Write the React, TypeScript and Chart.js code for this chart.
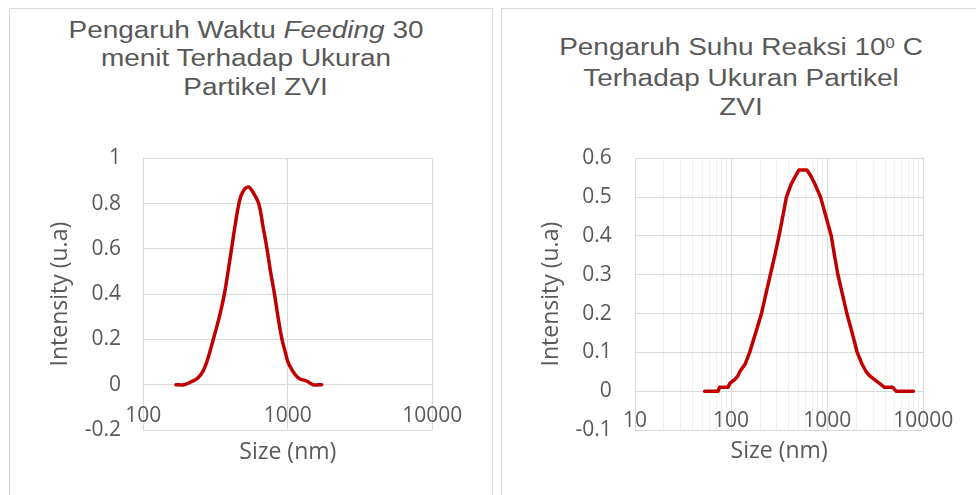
import React, { useEffect, useRef } from 'react';
import { Chart, registerables } from 'chart.js';

Chart.register(...registerables);

// ---- data ----
const leftSizes = [168, 191, 210, 239, 259, 275, 305, 336, 364, 386, 408, 431, 459, 486, 533, 574, 629, 673, 718, 759, 809, 855, 912, 964, 1003, 1069, 1140, 1214, 1315, 1403, 1494, 1716];
const leftIntensity = [0, 0, 0.01, 0.03, 0.06, 0.1, 0.2, 0.3, 0.4, 0.5, 0.6, 0.7, 0.8, 0.85, 0.873, 0.85, 0.8, 0.7, 0.6, 0.5, 0.4, 0.3, 0.2, 0.14, 0.1, 0.066, 0.04, 0.025, 0.019, 0.01, 0, 0];

const rightSizes = [53, 73, 76, 93, 97, 109, 118, 123, 140, 156, 180, 207, 230, 256, 285, 315, 345, 376, 424, 508, 615, 680, 740, 853, 970, 1103, 1190, 1292, 1440, 1603, 1820, 2052, 2300, 2547, 2756, 3106, 3500, 3945, 4810, 5214, 7890];
const rightIntensity = [0, 0, 0.01, 0.01, 0.02, 0.03, 0.04, 0.05, 0.07, 0.1, 0.15, 0.2, 0.25, 0.3, 0.35, 0.4, 0.45, 0.5, 0.535, 0.57, 0.57, 0.553, 0.535, 0.5, 0.45, 0.4, 0.35, 0.3, 0.25, 0.2, 0.15, 0.1, 0.07, 0.05, 0.04, 0.03, 0.02, 0.01, 0.01, 0, 0];

const leftXTicks = [100, 1000, 10000];
const rightXTicks = [10, 100, 1000, 10000];
const leftYTicks = [-0.2, 0, 0.2, 0.4, 0.6, 0.8, 1];
const rightYTicks = [-0.1, 0, 0.1, 0.2, 0.3, 0.4, 0.5, 0.6];

const xTitle = 'Size (nm)';
const yTitle = 'Intensity (u.a)';

const TEXT = '#595959';
const GRID = '#d9d9d9';
const MINOR = '#efefef';
const LINE = '#c00000';

type Spec = {
  sizes: number[];
  values: number[];
  xTicks: number[];
  yTicks: number[];
  minorGrid: boolean;
  smooth: boolean;
  width: number;
  height: number;
  pad: { left: number; right: number; top: number; bottom: number };
  yAxisWidth: number;
  xAxisHeight: number;
  yTickPad: number;
  xTickPad: number;
  yTitlePad: number;
  xTitlePad: number;
};

function ChartBox({ spec, left, top }: { spec: Spec; left: number; top: number }) {
  const ref = useRef<HTMLCanvasElement>(null);
  useEffect(() => {
    const canvas = ref.current!;
    const majors = spec.xTicks;
    const lo = majors[0];
    const hi = majors[majors.length - 1];
    const gridValues: number[] = [];
    majors.forEach((m, i) => {
      gridValues.push(m);
      if (spec.minorGrid && i < majors.length - 1) {
        for (let k = 2; k < 10; k++) gridValues.push(m * k);
      }
    });
    gridValues.sort((a, b) => a - b);
    const chart = new Chart(canvas, {
      type: 'line',
      data: {
        datasets: [
          {
            data: spec.sizes.map((s, i) => ({ x: s, y: spec.values[i] })),
            borderColor: LINE,
            borderWidth: 3.5,
            pointRadius: 0,
            tension: spec.smooth ? 0.4 : 0,
            borderCapStyle: 'round',
            borderJoinStyle: 'round',
            fill: false,
          } as any,
        ],
      },
      options: {
        responsive: false,
        animation: false,
        devicePixelRatio: 1,
        events: [],
        layout: { padding: spec.pad },
        plugins: {
          legend: { display: false },
          tooltip: { enabled: false },
          title: { display: false },
        },
        scales: {
          x: {
            type: 'logarithmic',
            position: 'bottom',
            min: lo,
            max: hi,
            afterBuildTicks: (s: any) => {
              s.ticks = gridValues.map((v) => ({ value: v }));
            },
            afterFit: (s: any) => {
              s.height = spec.xAxisHeight;
            },
            ticks: {
              autoSkip: false,
              maxRotation: 0,
              minRotation: 0,
              mirror: true,
              padding: spec.xTickPad,
              color: TEXT,
              font: { family: 'Open Sans', size: 21 },
              callback: (v: any) => (majors.includes(Number(v)) ? String(v) : ''),
            },
            grid: {
              drawTicks: false,
              lineWidth: 1,
              color: (ctx: any) => (ctx.tick && majors.includes(ctx.tick.value) ? GRID : spec.minorGrid ? MINOR : 'rgba(0,0,0,0)'),
            },
            border: { display: false },
            title: {
              display: true,
              text: xTitle,
              color: TEXT,
              font: { family: 'Open Sans', size: 23 },
              padding: { top: 0, bottom: spec.xTitlePad },
            },
          } as any,
          y: {
            type: 'linear',
            min: spec.yTicks[0],
            max: spec.yTicks[spec.yTicks.length - 1],
            afterBuildTicks: (s: any) => {
              s.ticks = spec.yTicks.map((v) => ({ value: v }));
            },
            afterFit: (s: any) => {
              s.width = spec.yAxisWidth;
            },
            ticks: {
              padding: spec.yTickPad,
              color: TEXT,
              font: { family: 'Open Sans', size: 21 },
              callback: (v: any) => String(Math.round(Number(v) * 10) / 10),
            },
            grid: { drawTicks: false, lineWidth: 1, color: GRID },
            border: { display: false },
            title: {
              display: true,
              text: yTitle,
              color: TEXT,
              font: { family: 'Open Sans', size: 23 },
              padding: { top: spec.yTitlePad, bottom: 0 },
            },
          } as any,
        },
      },
    });
    return () => chart.destroy();
  }, []);
  return (
    <canvas
      ref={ref}
      width={spec.width}
      height={spec.height}
      style={{ position: 'absolute', left, top, width: spec.width, height: spec.height, display: 'block' }}
    />
  );
}

const leftSpec: Spec = {
  sizes: leftSizes,
  values: leftIntensity,
  xTicks: leftXTicks,
  yTicks: leftYTicks,
  minorGrid: false,
  smooth: true,
  width: 484,
  height: 487,
  pad: { left: 20, right: 60.7, top: 150.3, bottom: 0 },
  yAxisWidth: 114.3,
  xAxisHeight: 65,
  yTickPad: 22.3,
  xTickPad: 1.5,
  yTitlePad: 18,
  xTitlePad: 28.7,
};

const rightSpec: Spec = {
  sizes: rightSizes,
  values: rightIntensity,
  xTicks: rightXTicks,
  yTicks: rightYTicks,
  minorGrid: true,
  smooth: false,
  width: 475,
  height: 487,
  pad: { left: 20, right: 52.7, top: 150.3, bottom: 0 },
  yAxisWidth: 114,
  xAxisHeight: 65,
  yTickPad: 23.3,
  xTickPad: -3.9,
  yTitlePad: 16.2,
  xTitlePad: 29.5,
};

const titleStyle: React.CSSProperties = {
  position: 'absolute',
  textAlign: 'center',
  fontFamily: '"Liberation Sans", Arial, sans-serif',
  fontSize: 23.5,
  lineHeight: '28.3px',
  color: TEXT,
  transform: 'scaleX(1.19)',
  transformOrigin: 'center',
  whiteSpace: 'nowrap',
};

export default function App() {
  return (
    <div
      style={{
        position: 'fixed',
        left: 0,
        top: 0,
        width: 976,
        height: 495,
        overflow: 'hidden',
        background: '#ffffff',
      }}
    >
      <div style={{ position: 'absolute', left: 9, top: 8, width: 484, height: 520, border: '1px solid #d9d9d9', boxSizing: 'border-box' }} />
      <div style={{ position: 'absolute', left: 501, top: 8, width: 490, height: 520, border: '1px solid #d9d9d9', boxSizing: 'border-box' }} />

      <div style={{ ...titleStyle, left: 4, top: 16, width: 484 }}>
        <div>
          Pengaruh Waktu <i>Feeding</i> 30
        </div>
        <div>menit Terhadap Ukuran</div>
        <div style={{ position: 'relative', left: 8 }}>Partikel ZVI</div>
      </div>

      <div style={{ ...titleStyle, left: 503, top: 33, width: 476 }}>
        <div>
          Pengaruh Suhu Reaksi 10
          <span style={{ fontSize: 14, position: 'relative', top: -7 }}>0</span> C
        </div>
        <div>Terhadap Ukuran Partikel</div>
        <div>ZVI</div>
      </div>

      <ChartBox spec={leftSpec} left={9} top={8} />
      <ChartBox spec={rightSpec} left={501} top={8} />
    </div>
  );
}
